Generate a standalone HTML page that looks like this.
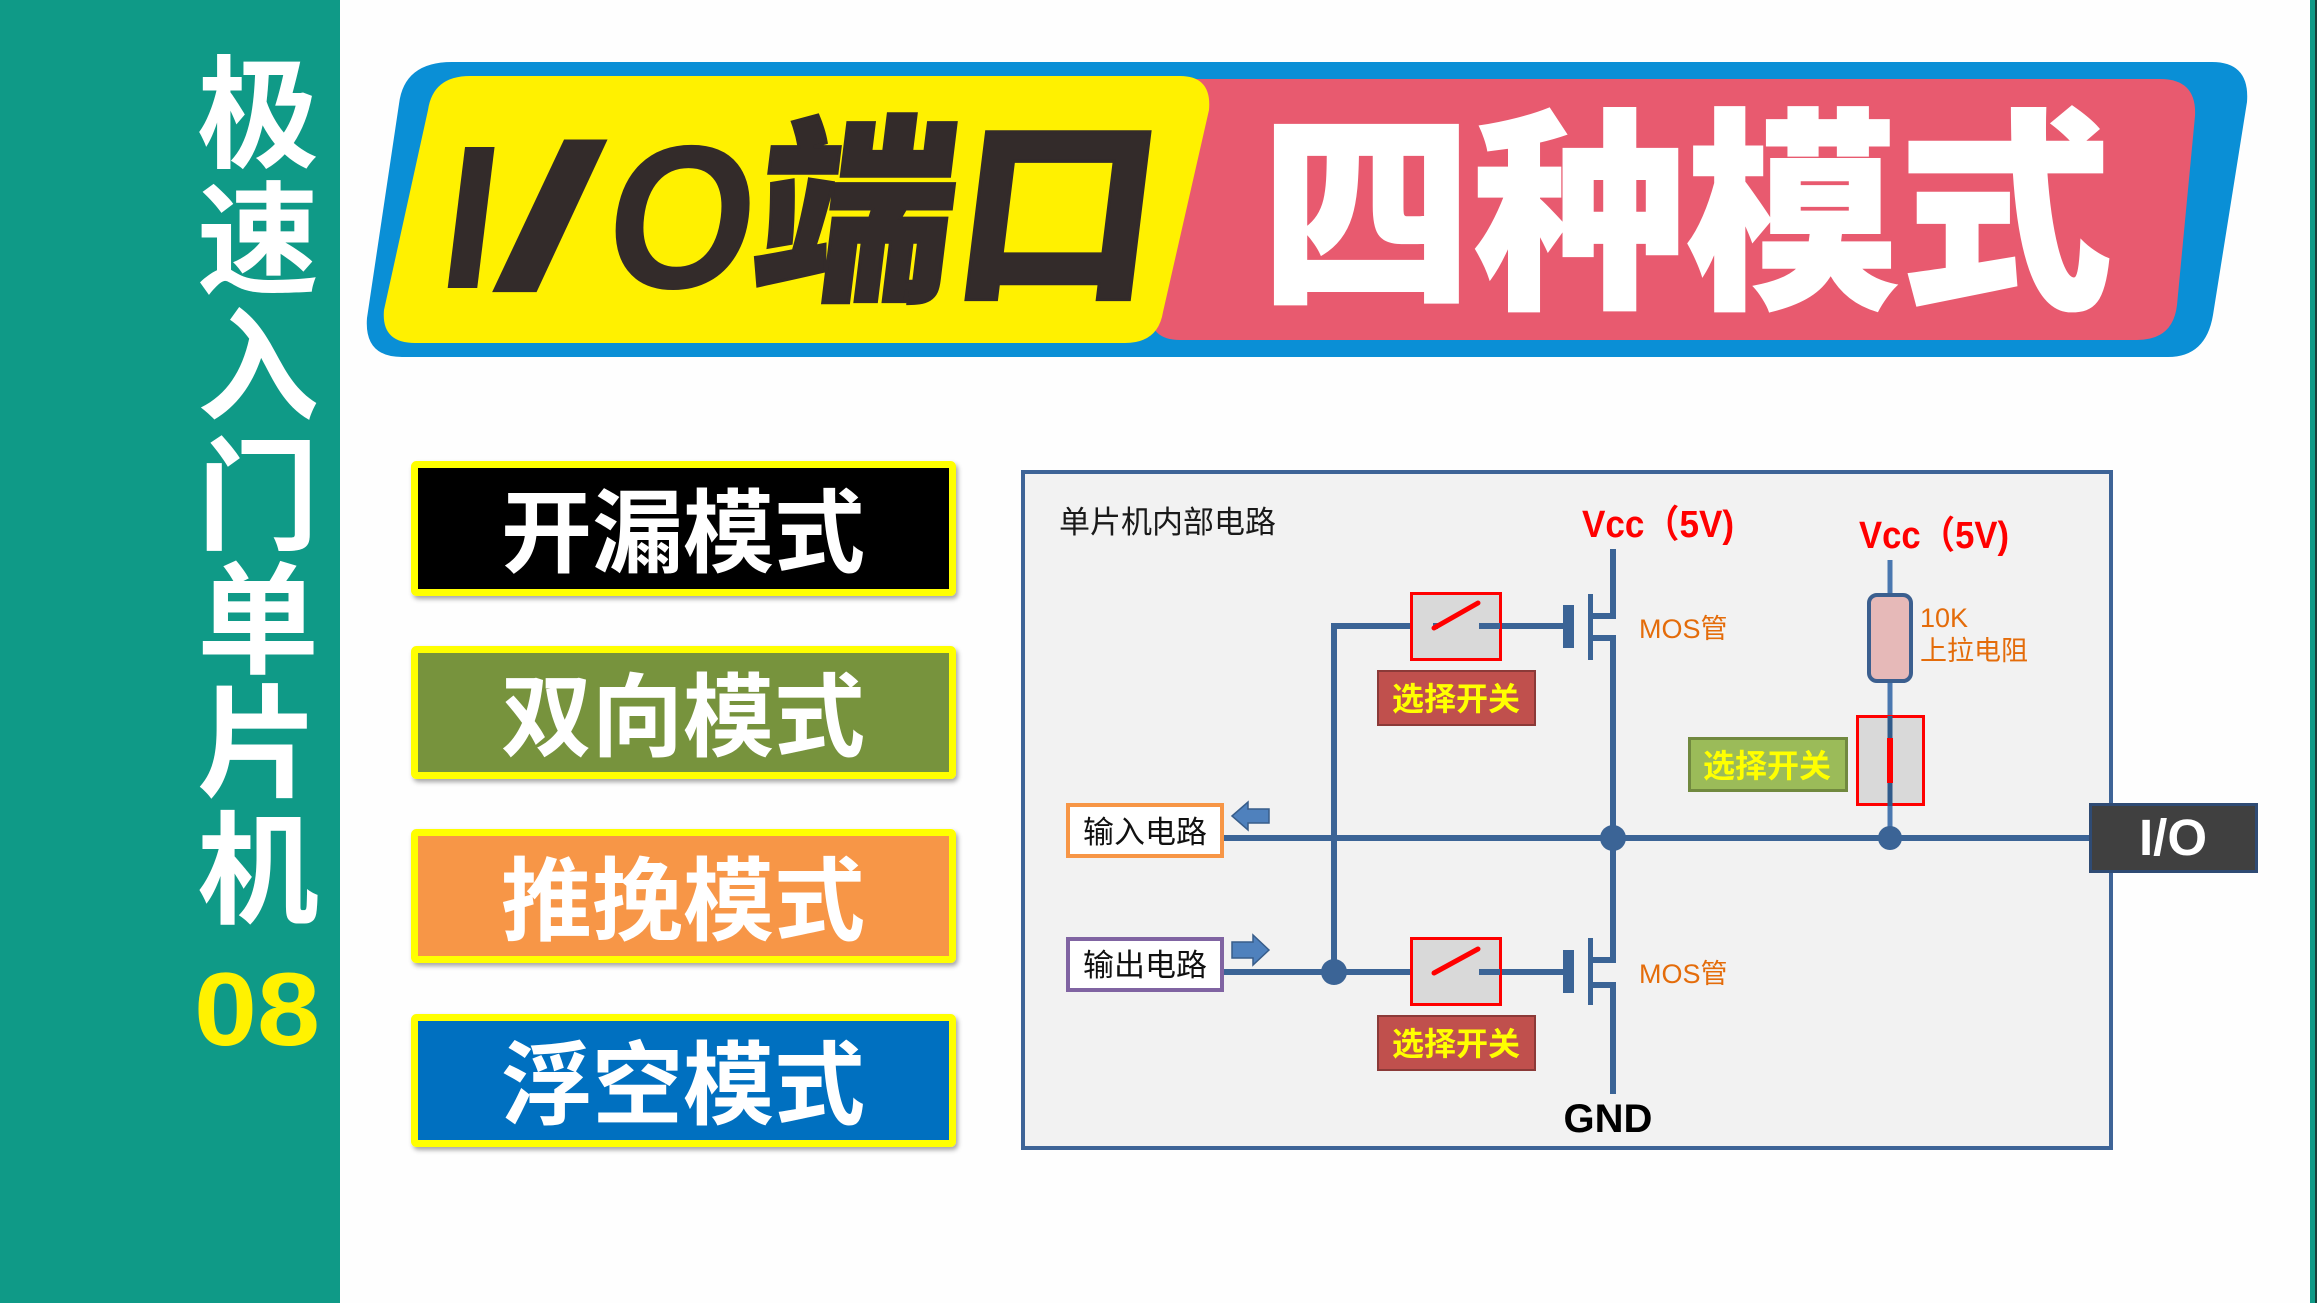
<!DOCTYPE html>
<html>
<head>
<meta charset="utf-8">
<style>
  html, body { margin:0; padding:0; background:#fefefe; }
  body { width:2317px; height:1303px; overflow:hidden; }
  svg { display:block; }
  text { font-family: "Liberation Sans", "Noto Sans CJK SC", sans-serif; }
</style>
</head>
<body>
<svg width="2317" height="1303" viewBox="0 0 2317 1303" xmlns="http://www.w3.org/2000/svg">
  <defs>
    <filter id="sh" x="-5%" y="-10%" width="115%" height="130%">
      <feDropShadow dx="2" dy="3" stdDeviation="2.5" flood-color="#000" flood-opacity="0.35"/>
    </filter>
  </defs>

  <!-- background -->
  <rect width="2317" height="1303" fill="#fefefe"/>

  <!-- left teal sidebar -->
  <rect x="0" y="0" width="340" height="1303" fill="#0f9a87"/>
  <!-- right edge strip -->
  <rect x="2310" y="0" width="5" height="1303" fill="#0f9a87"/>
  <rect x="2315" y="0" width="2" height="1303" fill="#17403a"/>

  <!-- sidebar vertical title -->
  <g fill="#ffffff" font-weight="bold" font-size="122" text-anchor="middle">
    <text x="258" y="158">极</text>
    <text x="258" y="284">速</text>
    <text x="258" y="410">入</text>
    <text x="258" y="540">门</text>
    <text x="258" y="664">单</text>
    <text x="258" y="787">片</text>
    <text x="258" y="914">机</text>
  </g>
  <text x="257" y="1045" fill="#fff200" font-weight="bold" font-size="104" text-anchor="middle" textLength="126" lengthAdjust="spacingAndGlyphs">08</text>

  <!-- banner -->
  <path d="M452,62 L2212,62 Q2250,62 2247,102 L2213,315 Q2206,357 2168,357 L402,357 Q364,357 367,318 L399,104 Q404,62 452,62 Z" fill="#0a8fd6"/>
  <path d="M1185,79 L2160,79 Q2197,79 2195,116 L2177,305 Q2173,340 2137,340 L1180,340 Q1148,340 1150,308 L1168,110 Q1171,79 1185,79 Z" fill="#e85a6f"/>
  <path d="M470,76 L1180,76 Q1212,76 1209,110 L1163,312 Q1158,343 1125,343 L415,343 Q381,343 384,310 L428,110 Q433,76 470,76 Z" fill="#fff100"/>

  <g transform="translate(0,288) skewX(-7)" fill="#332b2a" font-weight="bold" font-size="205">
    <text x="434" y="0">I</text>
    <text x="489" y="0" textLength="104" lengthAdjust="spacingAndGlyphs">/</text>
    <text x="600" y="0" textLength="148" lengthAdjust="spacingAndGlyphs">O</text>
  </g>
  <g transform="translate(0,284) skewX(-7)">
    <text x="748" y="0" font-size="200" font-weight="900" fill="#332b2a" stroke="#332b2a" stroke-width="3" textLength="402" lengthAdjust="spacingAndGlyphs">端口</text>
  </g>
  <text x="1686" y="291" font-size="215" font-weight="900" fill="#ffffff" stroke="#ffffff" stroke-width="2" text-anchor="middle" textLength="852" lengthAdjust="spacingAndGlyphs">四种模式</text>

  <!-- mode boxes -->
  <g filter="url(#sh)" stroke="#ffff00" stroke-width="7">
    <rect x="414.5" y="464.5" width="538" height="128" rx="2" fill="#000000"/>
    <rect x="414.5" y="649.5" width="538" height="126" rx="2" fill="#77933c"/>
    <rect x="414.5" y="832.5" width="538" height="127" rx="2" fill="#f79646"/>
    <rect x="414.5" y="1017.5" width="538" height="126" rx="2" fill="#0070c0"/>
  </g>
  <g fill="#ffffff" font-size="91" font-weight="bold" text-anchor="middle">
    <text x="683" y="565">开漏模式</text>
    <text x="683" y="749">双向模式</text>
    <text x="683" y="933">推挽模式</text>
    <text x="683" y="1117">浮空模式</text>
  </g>

  <!-- circuit diagram panel -->
  <rect x="1023" y="472" width="1088" height="676" fill="#f2f2f2" stroke="#3e6497" stroke-width="4"/>
  <text x="1059" y="533" font-size="31" fill="#1a1a1a">单片机内部电路</text>

  <!-- Vcc labels -->
  <text x="1582" y="537" font-size="38" font-weight="bold" fill="#ff0000" textLength="152" lengthAdjust="spacingAndGlyphs">Vcc（5V)</text>
  <text x="1859" y="548" font-size="38" font-weight="bold" fill="#ff0000" textLength="150" lengthAdjust="spacingAndGlyphs">Vcc（5V)</text>

  <!-- wires -->
  <g stroke="#3b6496" stroke-width="6" fill="none" stroke-linecap="butt">
    <path d="M1613,549 L1613,616 L1590,616"/>
    <path d="M1590,638 L1613,638 L1613,960 L1590,960"/>
    <path d="M1590,985 L1613,985 L1613,1094"/>
    <path d="M1479,626 L1563,626"/>
    <path d="M1334,972 L1334,626 L1433,626"/>
    <path d="M1224,972 L1433,972"/>
    <path d="M1479,972 L1563,972"/>
    <path d="M1224,838 L2089,838"/>
  </g>
  <!-- pull-up line -->
  <path d="M1890,560 L1890,838" stroke="#4a78b0" stroke-width="5" fill="none"/>

  <!-- mosfet channels and gates -->
  <g fill="#3b6496">
    <rect x="1588" y="594" width="5" height="66"/>
    <rect x="1563" y="605" width="11" height="43"/>
    <rect x="1588" y="938" width="5" height="67"/>
    <rect x="1563" y="950" width="11" height="43"/>
  </g>

  <!-- junction dots -->
  <g fill="#3b6496">
    <circle cx="1613" cy="838" r="13"/>
    <circle cx="1890" cy="838" r="12"/>
    <circle cx="1334" cy="972" r="13"/>
  </g>

  <!-- top switch -->
  <rect x="1411.5" y="593.5" width="89" height="66" fill="#d9d9d9" stroke="#ff0000" stroke-width="3"/>
  <path d="M1433,626 L1438,626" stroke="#3b6496" stroke-width="6"/>
  <path d="M1479,626 L1500,626" stroke="#3b6496" stroke-width="6"/>
  <path d="M1434,628 L1478,603" stroke="#ff0000" stroke-width="5" stroke-linecap="round"/>
  <!-- lower switch -->
  <rect x="1411.5" y="938.5" width="89" height="66" fill="#d9d9d9" stroke="#ff0000" stroke-width="3"/>
  <path d="M1479,972 L1500,972" stroke="#3b6496" stroke-width="6"/>
  <path d="M1434,973 L1478,949" stroke="#ff0000" stroke-width="5" stroke-linecap="round"/>

  <!-- switch labels (red) -->
  <rect x="1378" y="671" width="157" height="54" fill="#c0504d" stroke="#8b3a38" stroke-width="2"/>
  <text x="1456" y="710" font-size="32" font-weight="bold" fill="#ffff00" text-anchor="middle">选择开关</text>
  <rect x="1378" y="1016" width="157" height="54" fill="#c0504d" stroke="#8b3a38" stroke-width="2"/>
  <text x="1456" y="1055" font-size="32" font-weight="bold" fill="#ffff00" text-anchor="middle">选择开关</text>

  <!-- MOS labels -->
  <text x="1639" y="638" font-size="27" fill="#e46c0a">MOS管</text>
  <text x="1639" y="983" font-size="27" fill="#e46c0a">MOS管</text>

  <!-- GND -->
  <text x="1608" y="1132" font-size="40" font-weight="bold" fill="#000000" text-anchor="middle">GND</text>

  <!-- input / output boxes -->
  <rect x="1068" y="805" width="154" height="51" fill="#ffffff" stroke="#f79646" stroke-width="4"/>
  <text x="1145" y="843" font-size="31" fill="#111111" text-anchor="middle">输入电路</text>
  <rect x="1068" y="939" width="154" height="51" fill="#ffffff" stroke="#8064a2" stroke-width="4"/>
  <text x="1145" y="976" font-size="31" fill="#111111" text-anchor="middle">输出电路</text>

  <!-- arrows -->
  <path d="M1232,816 L1248,802 L1248,809 L1269,809 L1269,823 L1248,823 L1248,830 Z" fill="#4f81bd" stroke="#385d8a" stroke-width="1.5"/>
  <path d="M1269,950 L1253,935 L1253,942 L1232,942 L1232,958 L1253,958 L1253,965 Z" fill="#4f81bd" stroke="#385d8a" stroke-width="1.5"/>

  <!-- pull-up resistor -->
  <rect x="1869" y="595" width="42" height="86" rx="8" fill="#e6b9b8" stroke="#3b5f8f" stroke-width="4"/>
  <text x="1920" y="627" font-size="27" fill="#e46c0a">10K</text>
  <text x="1920" y="660" font-size="27" fill="#e46c0a">上拉电阻</text>

  <!-- vertical switch -->
  <rect x="1857.5" y="716.5" width="66" height="88" fill="#d9d9d9" stroke="#ff0000" stroke-width="3"/>
  <path d="M1890,716 L1890,738" stroke="#2f5a8a" stroke-width="5"/>
  <path d="M1890,783 L1890,806" stroke="#2f5a8a" stroke-width="5"/>
  <path d="M1890,738 L1890,783" stroke="#ff0000" stroke-width="6"/>

  <!-- green label -->
  <rect x="1689.5" y="738.5" width="157" height="52" fill="#9bbb59" stroke="#71893f" stroke-width="3"/>
  <text x="1767" y="777" font-size="32" font-weight="bold" fill="#ffff00" text-anchor="middle">选择开关</text>

  <!-- I/O box -->
  <rect x="2090.5" y="804.5" width="166" height="67" fill="#404040" stroke="#2f4b74" stroke-width="3"/>
  <text x="2173" y="855" font-size="51" font-weight="bold" fill="#ffffff" text-anchor="middle">I/O</text>
</svg>
</body>
</html>
